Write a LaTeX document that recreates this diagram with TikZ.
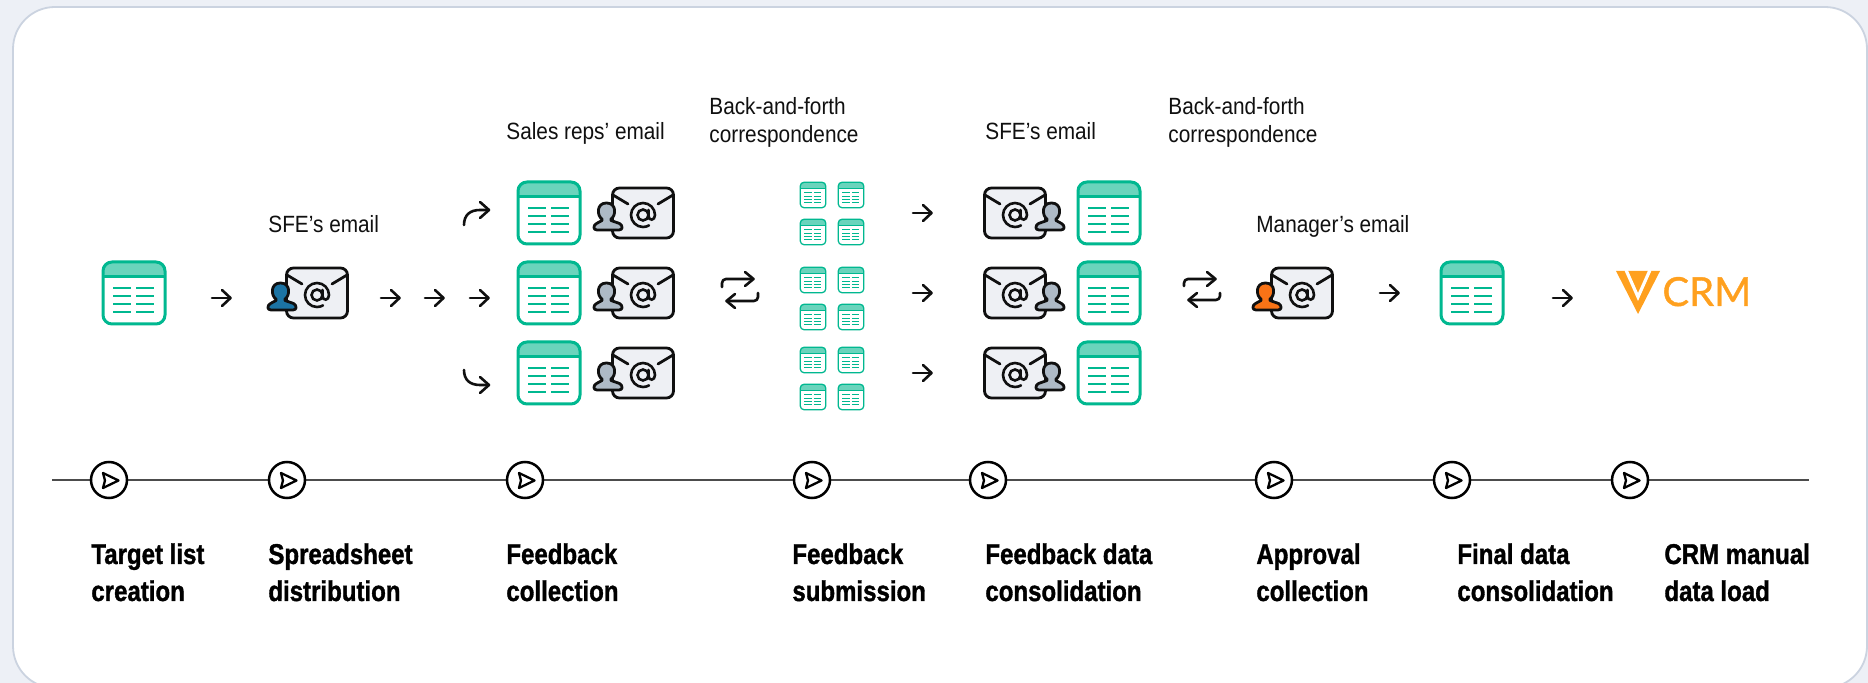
\documentclass[tikz,border=0pt]{standalone}
\usepackage{fontspec}
\setmainfont[FakeStretch=0.885]{Liberation Sans}
\newfontfamily\boldfont[FakeStretch=0.84,FakeBold=1.2]{Liberation Sans Bold}
\newfontfamily\logofont[FakeBold=0.9]{Lato}
\definecolor{pagebg}{HTML}{EDF0F6}
\definecolor{cardline}{HTML}{CBD3E0}
\definecolor{sheetgreen}{HTML}{00B890}
\definecolor{sheethead}{HTML}{6AD4BC}
\definecolor{envfill}{HTML}{EEF0F4}
\definecolor{inkline}{HTML}{101010}
\definecolor{persongrey}{HTML}{AEBAC6}
\definecolor{personblue}{HTML}{1C74A4}
\definecolor{personorange}{HTML}{F97316}
\definecolor{veevaorange}{HTML}{FFA01E}
\tikzset{
  x=0.5pt,y=-0.5pt,
  flow/.style={draw=inkline,line width=1.3pt,line cap=round,line join=round},
  regular/.style={anchor=base west,inner sep=0pt,font=\fontsize{11.75}{14}\selectfont,text=inkline,align=left},
  steptitle/.style={anchor=base west,inner sep=0pt,font=\boldfont\fontsize{14.3}{18.5}\selectfont,text=black,align=left},
  playdot/.style={circle,draw=black,line width=1.25pt,fill=white,minimum size=18pt,inner sep=0pt},
}
% sheet icon: #1 position, #2 scale
\newcommand{\sheeticon}[2]{%
  \begin{scope}[shift={#1},scale=#2]
    \fill[white] (-31,-31) rectangle (31,31);
    \fill[sheethead,rounded corners=3pt*#2] (-31,-31) rectangle (31,-16);
    \draw[sheetgreen,line width=1.5pt*#2,rounded corners=4.5pt*#2] (-31,-31) rectangle (31,31);
    \draw[sheetgreen,line width=1.5pt*#2] (-31,-16) -- (31,-16);
    \foreach \ry in {-5,3,11,19}{
      \draw[sheetgreen,line width=1.2pt*#2] (-21,\ry) -- (-3,\ry);
      \draw[sheetgreen,line width=1.2pt*#2] (2,\ry) -- (20,\ry);
    }
  \end{scope}}
% envelope icon: #1 position, #2 direction of the person (1 left, -1 right), #3 person colour
\newcommand{\mailicon}[3]{%
  \begin{scope}[shift={#1},xscale=#2]
    \draw[inkline,fill=envfill,line width=1.4pt,rounded corners=3.5pt] (-30.5,-25) rectangle (30.5,25);
    \draw[inkline,line width=1.4pt,line cap=round] (-30,-18) -- (-15,-9);
    \draw[inkline,line width=1.4pt,line cap=round] (30,-18) -- (15,-9);
    \begin{scope}[xscale=#2]
      \draw[inkline,line width=1.3pt,line cap=round] (5.5,-3) -- (5.5,3) .. controls (5.5,8) and (12,8) .. (12,2)
        arc[start angle=0,end angle=-300,radius=12];
      \draw[inkline,line width=1.3pt] (0,2) circle[radius=5.5];
    \end{scope}
    \draw[inkline,fill=#3,line width=1.4pt,line join=round]
      (-36.5,-10) .. controls (-47,-10) and (-46,3) .. (-41,6)
      -- (-41,7.5) -- (-46.5,10.5)
      .. controls (-50,12.5) and (-50,17) .. (-46,17) -- (-24,17)
      .. controls (-20,17) and (-20,12.5) .. (-23.5,10.5)
      -- (-32,7.5) -- (-32,6)
      .. controls (-27,3) and (-26,-10) .. (-36.5,-10) -- cycle;
  \end{scope}}
% straight arrow
\newcommand{\strarrow}[2]{%
  \draw[flow] (#1,#2) -- ++(18,0);
  \draw[flow] (#1+10,#2-8) -- (#1+18.5,#2) -- (#1+10,#2+8);}
% step marker
\newcommand{\stepmark}[2]{%
  \node[playdot] (#1) at (#2,480) {};
  \draw[black,line width=1.15pt,line join=round] (#2-6,473) -- (#2+9.5,480.5) -- (#2-6,488) -- (#2-4,480.5) -- cycle;}
\begin{document}
\begin{tikzpicture}
  \useasboundingbox (0,0) rectangle (1868,683);
  \fill[pagebg] (0,0) rectangle (1868,683);
  \begin{scope}
    \clip (0,0) rectangle (1868,683);
    \draw[cardline,fill=white,line width=0.9pt,rounded corners=21pt] (13,7) rectangle (1867,688);
  \end{scope}

  % timeline
  \coordinate (tlstart) at (52,480);
  \coordinate (tlend) at (1809,480);
  \draw[black!70,line width=0.55pt] (tlstart) -- (tlend);
  \stepmark{m1}{109}
  \stepmark{m2}{287}
  \stepmark{m3}{525}
  \stepmark{m4}{812}
  \stepmark{m5}{988}
  \stepmark{m6}{1274}
  \stepmark{m7}{1452}
  \stepmark{m8}{1630}

  % step titles
  \node[steptitle] (t1) at (91,601) {Target list\\creation};
  \node[steptitle] (t2) at (268,601) {Spreadsheet\\distribution};
  \node[steptitle] (t3) at (506,601) {Feedback\\collection};
  \node[steptitle] (t4) at (792,601) {Feedback\\submission};
  \node[steptitle] (t5) at (985,601) {Feedback data\\consolidation};
  \node[steptitle] (t6) at (1256,601) {Approval\\collection};
  \node[steptitle] (t7) at (1457,601) {Final data\\consolidation};
  \node[steptitle] (t8) at (1664,601) {CRM manual\\data load};

  % upper labels
  \node[regular] (l1) at (268,233) {SFE’s email};
  \node[regular] (l2) at (506,140) {Sales reps’ email};
  \node[regular] (l3) at (709,143) {Back-and-forth\\correspondence};
  \node[regular] (l4) at (985,140) {SFE’s email};
  \node[regular] (l5) at (1168,143) {Back-and-forth\\correspondence};
  \node[regular] (l6) at (1256,233) {Manager’s email};

  % icons
  \sheeticon{(134,293)}{1}
  \mailicon{(317,293)}{1}{personblue}
  \foreach \yy in {213,293,373}{
    \sheeticon{(549,\yy)}{1}
    \mailicon{(643,\yy)}{1}{persongrey}
    \mailicon{(1015,\yy)}{-1}{persongrey}
    \sheeticon{(1109,\yy)}{1}
  }
  \foreach \yy in {195,232,280,317,360,397}{
    \sheeticon{(813,\yy)}{0.41}
    \sheeticon{(851,\yy)}{0.41}
  }
  \mailicon{(1302,293)}{1}{personorange}
  \sheeticon{(1472,293)}{1}

  % arrows
  \strarrow{212}{298}
  \strarrow{381}{298}
  \strarrow{425}{298}
  \strarrow{470}{298}
  \strarrow{913}{213}
  \strarrow{913}{293}
  \strarrow{913}{373}
  \strarrow{1380}{293}
  \strarrow{1553}{298}
  % curved
  \draw[flow] (464,225) .. controls (464,215) and (470,210) .. (480,210) -- (488,210);
  \draw[flow] (480,202) -- (489,210) -- (480,218);
  \draw[flow] (464,370) .. controls (464,380) and (470,385) .. (480,385) -- (488,385);
  \draw[flow] (480,377) -- (489,385) -- (480,393);
  % swaps
  \draw[flow,rounded corners=2pt] (722,287) -- (722,279) -- (753,279);
  \draw[flow] (745,272) -- (753.5,279) -- (745,286);
  \draw[flow,rounded corners=2pt] (758,293) -- (758,301) -- (727,301);
  \draw[flow] (735,294) -- (726.5,301) -- (735,308);
  \draw[flow,rounded corners=2pt] (1184,286) -- (1184,279) -- (1215,279);
  \draw[flow] (1207,272) -- (1215.5,279) -- (1207,286);
  \draw[flow,rounded corners=2pt] (1220,293) -- (1220,300) -- (1189,300);
  \draw[flow] (1197,293) -- (1188.5,300) -- (1197,307);

  % logo
  \fill[veevaorange] (1616,271) -- (1660,271) -- (1638,314) -- cycle;
  \draw[white,line width=1.6pt,line join=miter] (1626,270) -- (1638,297) -- (1650,270);
  \node[anchor=base west,inner sep=0pt,text=veevaorange,font=\logofont\fontsize{20}{22}\selectfont] (crm) at (1662,306) {CRM};
\end{tikzpicture}
\end{document}
